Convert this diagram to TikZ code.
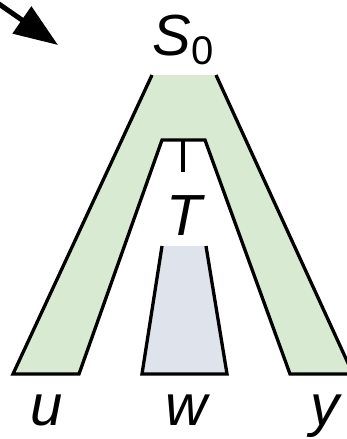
\documentclass[tikz,border=0pt]{standalone}
\usepackage{fontspec}
\setmainfont{Liberation Sans}
\usetikzlibrary{arrows.meta}
\definecolor{treegreen}{HTML}{D9EAD3}
\definecolor{subgray}{HTML}{DFE3EC}

\begin{document}
\begin{tikzpicture}[
		% Picture Styling
		x=1pt, y=-1pt,
		>={Triangle[length=44pt, width=32pt]},
		letter/.style={anchor=base, inner sep=0pt, font=\fontsize{58}{60}\selectfont\itshape},
		outline/.style={draw=black, line width=3.3pt},
		pointer/.style={->, line width=5pt, draw=black}
	]
	\useasboundingbox (0,0) rectangle (347,439);
	\clip (0,0) rectangle (347,439);
	% Outer tree S_0 with the cut for T
	\fill[treegreen] (152,75) -- (216,75) -- (353,374) -- (290,374) -- (205,140) -- (162,140) -- (79,374) -- (13,374) -- cycle;
	\draw[outline] (216,75) -- (353,374) -- (290,374) -- (205,140) -- (162,140) -- (79,374) -- (13,374) -- (152,75);
	% Subtree below T
	\fill[subgray] (162,246) -- (206,246) -- (227,374) -- (142,374) -- cycle;
	\draw[outline] (206,246) -- (227,374) -- (142,374) -- (162,246);
	% Labels
	\node[letter] (root) at (183,55) {S\raisebox{-9pt}{\fontsize{40}{40}\selectfont\upshape 0}};
	\node[letter] (T) at (184,235) {T};
	\node[letter] (u) at (47,425) {u};
	\node[letter] (w) at (186,425) {w};
	\node[letter] (y) at (325,425) {y};
	% Tick and entry arrow
	\coordinate (tick) at (183,140);
	\coordinate (tickend) at (183,172);
	\draw[outline] (tick) -- (tickend);
	\coordinate (src) at (-14,-5);
	\coordinate (tgt) at (58,45);
	\draw[pointer] (src) -- (tgt);
\end{tikzpicture}
\end{document}
